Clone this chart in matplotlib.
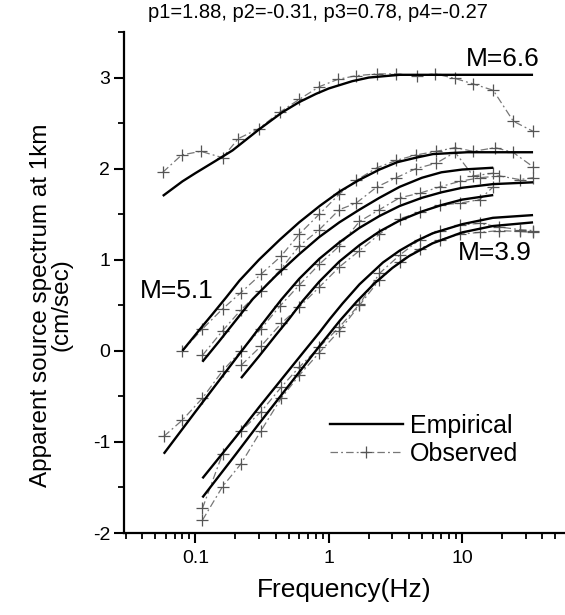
import matplotlib
matplotlib.use("Agg")
import matplotlib.pyplot as plt
from matplotlib.ticker import LogLocator, FixedLocator, NullFormatter, FixedFormatter, MultipleLocator
from matplotlib.lines import Line2D

plt.rcParams['font.family'] = ['Liberation Sans', 'DejaVu Sans']

# ---------------- data ----------------
title_text = "p1=1.88, p2=-0.31, p3=0.78, p4=-0.27"

# Empirical curves
emp_G_f = [0.057, 0.08, 0.1, 0.14, 0.19, 0.3, 0.45, 0.6, 0.8, 1.0, 1.5, 2.0, 3.4, 10, 34]
emp_G_y = [1.70, 1.86, 1.95, 2.08, 2.20, 2.43, 2.62, 2.73, 2.82, 2.88, 2.96, 3.00, 3.03, 3.03, 3.03]

emp_A_f = [0.08, 0.113, 0.134, 0.171, 0.214, 0.3, 0.43, 0.6, 0.855, 1.21, 1.71, 2.4, 3.25, 4.5, 6.05, 10.9, 20, 34]
emp_A_y = [0.0, 0.27, 0.40, 0.59, 0.77, 1.00, 1.22, 1.41, 1.59, 1.75, 1.88, 1.99, 2.07, 2.12, 2.16, 2.18, 2.18, 2.18]

emp_B_f = [0.113, 0.15, 0.2, 0.27, 0.405, 0.6, 0.85, 1.2, 1.7, 2.4, 3.4, 5, 7, 10, 17.1]
emp_B_y = [-0.12, 0.10, 0.33, 0.57, 0.83, 1.06, 1.25, 1.41, 1.55, 1.68, 1.80, 1.90, 1.96, 1.99, 2.01]

emp_C_f = [0.058, 0.1, 0.2, 0.34, 0.44, 0.6, 0.85, 1.2, 1.7, 2.4, 3.4, 5, 7, 10, 17, 34]
emp_C_y = [-1.13, -0.67, -0.09, 0.35, 0.56, 0.79, 1.01, 1.19, 1.35, 1.48, 1.59, 1.68, 1.74, 1.79, 1.83, 1.85]

emp_D_f = [0.22, 0.3, 0.4, 0.51, 0.64, 0.85, 1.2, 1.7, 2.4, 3.4, 5, 7, 10, 17.1]
emp_D_y = [-0.30, -0.06, 0.17, 0.36, 0.55, 0.76, 0.98, 1.16, 1.31, 1.43, 1.53, 1.60, 1.66, 1.71]

emp_E_f = [0.113, 0.2, 0.3, 0.45, 0.65, 0.85, 1.02, 1.27, 1.7, 2.55, 3.4, 4.6, 6, 10, 17, 34]
emp_E_y = [-1.40, -0.95, -0.62, -0.30, -0.01, 0.20, 0.35, 0.52, 0.73, 0.97, 1.10, 1.21, 1.29, 1.39, 1.46, 1.49]

emp_F_f = [0.113, 0.2, 0.3, 0.45, 0.65, 0.85, 1.21, 1.62, 2.2, 3.0, 4, 6, 10, 17, 34]
emp_F_y = [-1.61, -1.14, -0.80, -0.47, -0.17, 0.05, 0.33, 0.54, 0.74, 0.91, 1.04, 1.18, 1.30, 1.37, 1.41]

# Observed curves
obs_G_f = [0.057, 0.079, 0.11, 0.16, 0.21, 0.3, 0.43, 0.6, 0.85, 1.17, 1.6, 2.3, 3.2, 4.6, 6.3, 8.85, 12.1, 17.1, 24.2, 34]
obs_G_y = [1.96, 2.15, 2.19, 2.12, 2.33, 2.44, 2.62, 2.76, 2.90, 2.98, 3.02, 3.04, 3.04, 3.02, 3.04, 2.99, 2.93, 2.86, 2.52, 2.41]

obs_A_f = [0.08, 0.113, 0.16, 0.22, 0.31, 0.44, 0.6, 0.85, 1.2, 1.6, 2.3, 3.2, 4.5, 6.4, 8.85, 12.1, 17.7, 24, 34]
obs_A_y = [0.0, 0.24, 0.46, 0.64, 0.84, 1.04, 1.28, 1.50, 1.72, 1.87, 2.01, 2.09, 2.15, 2.19, 2.23, 2.19, 2.23, 2.18, 2.02]

obs_B_f = [0.113, 0.16, 0.22, 0.31, 0.44, 0.6, 0.85, 1.2, 1.6, 2.3, 3.2, 4.5, 6.4, 8.85, 12.1, 17.1]
obs_B_y = [-0.05, 0.22, 0.45, 0.66, 0.90, 1.15, 1.33, 1.55, 1.62, 1.80, 1.90, 2.00, 2.06, 2.18, 1.92, 1.95]

obs_C_f = [0.058, 0.08, 0.113, 0.16, 0.22, 0.31, 0.43, 0.6, 0.85, 1.2, 1.7, 2.4, 3.4, 4.8, 6.8, 9.6, 13.5, 19, 27, 34]
obs_C_y = [-0.94, -0.76, -0.52, -0.22, 0.0, 0.24, 0.49, 0.72, 0.95, 1.15, 1.42, 1.55, 1.68, 1.73, 1.80, 1.86, 1.90, 1.92, 1.88, 1.90]

obs_D_f = [0.22, 0.31, 0.44, 0.6, 0.85, 1.2, 1.7, 2.4, 3.4, 4.8, 6.8, 9.6, 13.5, 17.1]
obs_D_y = [-0.16, 0.05, 0.30, 0.48, 0.70, 0.92, 1.10, 1.28, 1.45, 1.52, 1.60, 1.62, 1.66, 1.80]

obs_E_f = [0.113, 0.16, 0.22, 0.31, 0.44, 0.6, 0.85, 1.2, 1.7, 2.4, 3.4, 4.8, 6.8, 9.6, 13.5, 19, 27, 34]
obs_E_y = [-1.73, -1.13, -0.88, -0.67, -0.40, -0.18, 0.04, 0.26, 0.51, 0.85, 1.05, 1.22, 1.32, 1.38, 1.40, 1.36, 1.33, 1.32]

obs_F_f = [0.113, 0.16, 0.22, 0.31, 0.44, 0.6, 0.85, 1.2, 1.7, 2.4, 3.4, 4.8, 6.8, 9.6, 13.5, 19, 27, 34]
obs_F_y = [-1.86, -1.49, -1.24, -0.88, -0.52, -0.27, -0.02, 0.22, 0.50, 0.78, 0.98, 1.12, 1.22, 1.28, 1.30, 1.32, 1.31, 1.30]

empirical = [(emp_G_f, emp_G_y), (emp_A_f, emp_A_y), (emp_B_f, emp_B_y), (emp_C_f, emp_C_y),
             (emp_D_f, emp_D_y), (emp_E_f, emp_E_y), (emp_F_f, emp_F_y)]
observed = [(obs_G_f, obs_G_y), (obs_A_f, obs_A_y), (obs_B_f, obs_B_y), (obs_C_f, obs_C_y),
            (obs_D_f, obs_D_y), (obs_E_f, obs_E_y), (obs_F_f, obs_F_y)]

x_ticks = [0.1, 1, 10]
x_ticklabels = ["0.1", "1", "10"]
y_ticks = [-2, -1, 0, 1, 2, 3]
y_ticklabels = ["-2", "-1", "0", "1", "2", "3"]

labels = [("M=6.6", 20.0, 3.2), ("M=5.1", 0.072, 0.66), ("M=3.9", 17.5, 1.07)]

# ---------------- figure ----------------
W, H = 565, 615
fig = plt.figure(figsize=(W / 100, H / 100), dpi=100)
ax = fig.add_axes([124 / W, 1 - 533 / H, (564 - 124) / W, (533 - 32) / H])

obs_color = "#777777"
for f, y in observed:
    ax.plot(f, y, color=obs_color, lw=0.9, dashes=(6, 2.5, 1.5, 2.5),
            marker="+", ms=8, mew=0.9, mec="#555555")
for f, y in empirical:
    ax.plot(f, y, color="black", lw=1.7, solid_capstyle="butt")

ax.set_xscale("log")
ax.set_xlim(0.0292, 58)
ax.set_ylim(-2, 3.5)

ax.xaxis.set_major_locator(FixedLocator(x_ticks))
ax.xaxis.set_major_formatter(FixedFormatter(x_ticklabels))
ax.xaxis.set_minor_locator(LogLocator(base=10, subs=range(2, 10), numticks=20))
ax.xaxis.set_minor_formatter(NullFormatter())
ax.yaxis.set_major_locator(FixedLocator(y_ticks))
ax.yaxis.set_major_formatter(FixedFormatter(y_ticklabels))
ax.yaxis.set_minor_locator(MultipleLocator(0.5))

for s in ("top", "right"):
    ax.spines[s].set_visible(False)
for s in ("left", "bottom"):
    ax.spines[s].set_linewidth(1.6)

ax.tick_params(axis="both", which="major", direction="out", length=7, width=1.5,
               labelsize=14, color="black")
ax.tick_params(axis="both", which="minor", direction="out", length=4.5, width=1.3)
ax.tick_params(axis="x", which="major", pad=5)
ax.tick_params(axis="y", which="major", pad=3)

# labels
ax.set_xlabel("Frequency(Hz)", fontsize=19, labelpad=8)
fig.text(51 / W, 1 - 305 / H, "Apparent source spectrum at 1km\n(cm/sec)", rotation=90,
         ha="center", va="center", fontsize=17.5, linespacing=0.92, multialignment="center")
fig.text(318 / W, 1 - 13 / H, title_text, ha="center", va="center", fontsize=14.5)

for txt, fx, fy in labels:
    ax.text(fx, fy, txt, fontsize=19, ha="center", va="center")

# legend
h_emp = Line2D([], [], color="black", lw=1.7)
h_obs = Line2D([], [], color=obs_color, lw=0.9, dashes=(6, 2.5, 1.5, 2.5),
               marker="+", ms=9, mew=0.9, mec="#555555")
leg = fig.legend([h_emp, h_obs], ["Empirical", "Observed"], loc="center left",
                 bbox_to_anchor=(330 / W, 1 - 440 / H), frameon=False, fontsize=18,
                 handlelength=2.9, handletextpad=0.3, labelspacing=0.15,
                 borderpad=0, borderaxespad=0)

fig.savefig("out.png", dpi=100)
